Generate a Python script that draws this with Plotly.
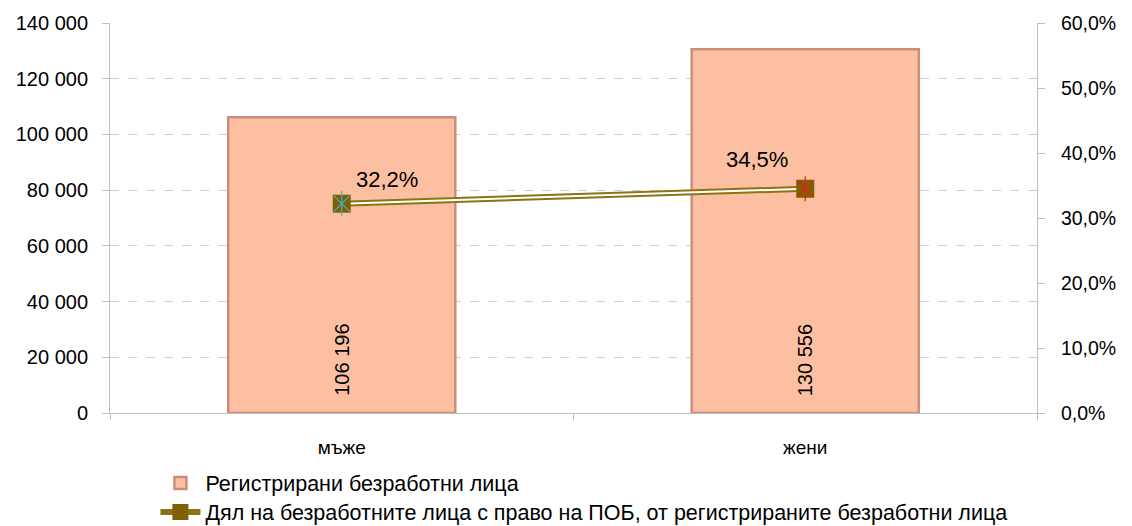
import plotly.graph_objects as go

categories = ["мъже", "жени"]
registered = [106196, 130556]
share = [0.322, 0.345]
bar_labels = ["106 196", "130 556"]
share_labels = ["32,2%", "34,5%"]
left_ticks = [0, 20000, 40000, 60000, 80000, 100000, 120000, 140000]
right_ticks = [0, 0.1, 0.2, 0.3, 0.4, 0.5, 0.6]
cross_colors = ["#33B5D6", "#E02020"]

FONT = "Liberation Sans, Arial, sans-serif"
olive = "#7F6000"

fig = go.Figure()
fig.add_trace(go.Bar(
    x=categories, y=registered, name="Регистрирани безработни лица",
    marker=dict(color="#FCBFA1", line=dict(color="#C99079", width=2.5)),
    width=0.49, yaxis="y", legend="legend",
))
fig.add_trace(go.Scatter(
    x=categories, y=share, yaxis="y2", mode="lines+markers", legend="legend2",
    name="Дял на безработните лица с право на ПОБ, от регистрираните безработни лица",
    line=dict(color="#8C7414", width=6),
    marker=dict(symbol="square", size=16, color=olive, line=dict(color=olive, width=0)),
))
fig.add_trace(go.Scatter(
    x=categories, y=share, yaxis="y2", mode="lines", showlegend=False,
    line=dict(color="white", width=2), hoverinfo="skip",
))
fig.add_trace(go.Scatter(
    x=categories, y=share, yaxis="y2", mode="markers", showlegend=False,
    marker=dict(symbol="square", size=18, color=olive, line=dict(width=0)),
    hoverinfo="skip",
))
fig.add_trace(go.Scatter(
    x=categories, y=share, yaxis="y2", mode="markers", showlegend=False,
    marker=dict(symbol="x-thin-open", size=16, color=cross_colors,
                line=dict(color=cross_colors, width=1.2)),
    hoverinfo="skip",
))
fig.add_trace(go.Scatter(
    x=categories, y=share, yaxis="y2", mode="markers", showlegend=False,
    marker=dict(symbol="line-ns-open", size=18, color=cross_colors,
                line=dict(color=cross_colors, width=1.2)),
    hoverinfo="skip",
))

for c, lab in zip(categories, bar_labels):
    fig.add_annotation(x=c, y=0, yref="y", text=lab, textangle=-90, showarrow=False,
                       yanchor="bottom", yshift=15, font=dict(size=20, color="#000", family=FONT))
offs = [(45, 24), (-48, 29)]
for c, v, lab, (dx, dy) in zip(categories, share, share_labels, offs):
    fig.add_annotation(x=c, y=v, yref="y2", text=lab, showarrow=False,
                       xshift=dx, yshift=dy, font=dict(size=22, color="#000", family=FONT))

legend_common = dict(xanchor="left", yanchor="middle", bgcolor="rgba(0,0,0,0)",
                     itemwidth=40, font=dict(size=21.5, family=FONT))

fig.update_layout(
    width=1124, height=518, separators=", ",
    margin=dict(l=102, r=95, t=15, b=113, autoexpand=False),
    paper_bgcolor="white", plot_bgcolor="white",
    font=dict(family=FONT, size=20, color="#000"),
    xaxis=dict(showline=True, linecolor="#BFBFBF", linewidth=1, ticks="outside",
               tickson="boundaries", ticklen=6, tickcolor="#BFBFBF",
               tickfont=dict(size=19), showgrid=False, ticklabelstandoff=17,
               automargin=False),
    yaxis=dict(range=[0, 140000], tickvals=left_ticks, tickformat=",d",
               showline=True, linecolor="#BFBFBF", ticks="outside", ticklen=7,
               tickcolor="#BFBFBF", gridcolor="#D0D0D0", griddash="dash",
               zeroline=False, tickfont=dict(size=20), ticklabelstandoff=10,
               automargin=False),
    yaxis2=dict(range=[0, 0.6], tickvals=right_ticks, tickformat=".1%",
                overlaying="y", side="right", showline=True, linecolor="#BFBFBF",
                ticks="outside", ticklen=7, tickcolor="#BFBFBF", showgrid=False,
                zeroline=False, tickfont=dict(size=19.5), ticklabelstandoff=12,
                automargin=False),
    legend=dict(x=0.049, y=-0.1795, **legend_common),
    legend2=dict(x=0.049, y=-0.2538, **legend_common),
    showlegend=True,
)

fig.write_html("out.html")
